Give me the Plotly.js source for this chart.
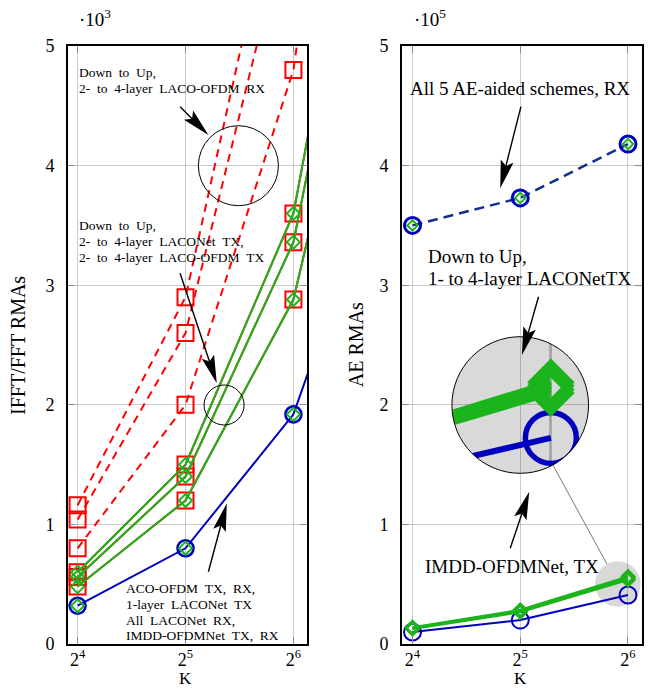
<!DOCTYPE html>
<html><head><meta charset="utf-8">
<script src="https://cdn.plot.ly/plotly-3.0.1.min.js"></script>
<style>html,body{margin:0;padding:0;background:#fff}#chart{width:648px;height:688px}</style>
</head><body><div id="chart"></div>
<script>
// ---------------- data ----------------
// Left panel: IFFT/FFT RMAs (x10^3), K = 2^4 ... 2^7 (2^7 lies beyond the plotted range, lines run off the edge)
const K = [16, 32, 64, 128];
const lacoOfdmRx2 = [0.80, 2.00, 4.80, 11.20];
const lacoOfdmRx3 = [1.04, 2.60, 6.24, 14.56];
const lacoOfdmRx4 = [1.16, 2.90, 6.96, 16.24];
const lacoOfdmTx2 = [0.48, 1.20, 2.88, 6.72];
const lacoOfdmTx3 = [0.56, 1.40, 3.36, 7.84];
const lacoOfdmTx4 = [0.60, 1.50, 3.60, 8.40];
const laconetTx2 = [0.48, 1.20, 2.88, 6.72];
const laconetTx3 = [0.56, 1.40, 3.36, 7.84];
const laconetTx4 = [0.60, 1.50, 3.60, 8.40];
const acoOfdmTxRx = [0.32, 0.80, 1.92, 4.48];
const laconet1Tx = [0.32, 0.80, 1.92, 4.48];

// Right panel: AE RMAs (x10^5)
const Kae = [16, 32, 64];
const aeRxAll = [3.50, 3.73, 4.18];
const laconetAeTx1 = [0.125, 0.265, 0.535];
const laconetAeTx2 = [0.130, 0.272, 0.545];
const laconetAeTx3 = [0.135, 0.279, 0.555];
const laconetAeTx4 = [0.140, 0.286, 0.565];
const imddAeTx = [0.10, 0.20, 0.41];

const xTickVals = [16, 32, 64];
const xTickText = ['2<sup>4</sup>', '2<sup>5</sup>', '2<sup>6</sup>'];
const yTickVals = [0, 1, 2, 3, 4, 5];

// ---------------- geometry ----------------
const W = 648, H = 688, ML = 68, MR = 6.3, MT = 46, MB = 44;
const PW = W - ML - MR, PH = H - MT - MB;
const PX = x => (x - ML) / PW, PY = y => (H - MB - y) / PH;
const L2 = v => v * Math.LOG10E * Math.LN2;
const leftDom = [PX(68), PX(307)], rightDom = [PX(402), PX(641.7)];
const leftR = [3.911, 6.127], rightR = [3.904, 6.13];
const rxLog = px => rightR[0] + (px - 402) * (rightR[1] - rightR[0]) / (641.7 - 402);
const ryVal = py => (644 - py) * 5 / 598;

// inset (spy) geometry
const bigC = {x: 520, y: 405, r: 68.3};
const smC = {x: 617.5, y: 584, r: 68.3 / 3};
const insetX = [L2(rxLog(smC.x - smC.r)), L2(rxLog(smC.x + smC.r))];
const insetY = [ryVal(smC.y + smC.r), ryVal(smC.y - smC.r)];

const BLUE = '#0000c0', GREEN = '#1cb41c', RED = '#ff0000', NAVY = '#10308c';
const FONT = 'Liberation Serif, Times New Roman, serif';

// ---------------- traces ----------------
const traces = [];
function tr(x, y, ax, opt) { traces.push(Object.assign({x: x, y: y, xaxis: ax[0], yaxis: ax[1], type: 'scatter', hoverinfo: 'skip', showlegend: false}, opt)); }
const LA = ['x', 'y'], RA = ['x2', 'y2'], IA = ['x3', 'y3'];

// left: RX dashed red
[lacoOfdmRx2, lacoOfdmRx3, lacoOfdmRx4].forEach(s => tr(K, s, LA, {mode: 'lines+markers', line: {color: RED, width: 2, dash: '8px,6px'}, marker: {symbol: 'square-open', size: 16, color: RED, line: {width: 2, color: RED}}}));
// left: LACO-OFDM TX red squares
[lacoOfdmTx2, lacoOfdmTx3, lacoOfdmTx4].forEach(s => tr(K, s, LA, {mode: 'lines+markers', line: {color: RED, width: 2}, marker: {symbol: 'square-open', size: 16, color: RED, line: {width: 2, color: RED}}}));
// left: LACONet TX green
[laconetTx2, laconetTx3, laconetTx4].forEach(s => tr(K, s, LA, {mode: 'lines+markers', line: {color: GREEN, width: 2}, marker: {symbol: 'diamond-open', size: 10, color: GREEN, line: {width: 2, color: GREEN}}}));
// left: ACO-OFDM blue
tr(K, acoOfdmTxRx, LA, {mode: 'lines+markers', line: {color: BLUE, width: 2}, marker: {symbol: 'circle-open', size: 16, color: BLUE, line: {width: 2.6, color: BLUE}}});
tr(K, laconet1Tx, LA, {mode: 'markers', marker: {symbol: 'diamond-open', size: 10, color: GREEN, line: {width: 2, color: GREEN}}});

// right: RX (all 5 AE schemes)
tr(Kae, aeRxAll, RA, {mode: 'lines+markers', line: {color: NAVY, width: 2.5, dash: '10px,6px'}, marker: {symbol: 'circle-open', size: 16, color: BLUE, line: {width: 3, color: BLUE}}});
tr(Kae, aeRxAll, RA, {mode: 'markers', marker: {symbol: 'diamond-open', size: 8, color: GREEN, line: {width: 2, color: GREEN}}});
// right: IMDD-OFDMNet TX
tr(Kae, imddAeTx, RA, {mode: 'lines+markers', line: {color: BLUE, width: 2}, marker: {symbol: 'circle-open', size: 17, color: BLUE, line: {width: 2, color: BLUE}}});
// right: LACONet TX 1..4
[laconetAeTx1, laconetAeTx2, laconetAeTx3, laconetAeTx4].forEach(s => tr(Kae, s, RA, {mode: 'lines+markers', line: {color: GREEN, width: 2}, marker: {symbol: 'diamond-open', size: 10, color: GREEN, line: {width: 2, color: GREEN}}}));

// inset: magnified x3
tr(Kae, imddAeTx, IA, {mode: 'lines+markers', line: {color: BLUE, width: 6}, marker: {symbol: 'circle-open', size: 51, color: BLUE, line: {width: 5.5, color: BLUE}}, cliponaxis: true});
[laconetAeTx1, laconetAeTx2, laconetAeTx3, laconetAeTx4].forEach(s => tr(Kae, s, IA, {mode: 'lines+markers', line: {color: GREEN, width: 6}, marker: {symbol: 'diamond-open', size: 30, color: GREEN, line: {width: 6, color: GREEN}}, cliponaxis: true}));

// ---------------- shapes ----------------
const shapes = [];
function circ(c, opt) { shapes.push(Object.assign({type: 'circle', xref: 'paper', yref: 'paper', x0: PX(c.x - c.r), x1: PX(c.x + c.r), y0: PY(c.y + c.r), y1: PY(c.y - c.r)}, opt)); }
// gray spy circles (below grid)
circ(bigC, {layer: 'below', fillcolor: '#d9d9d9', line: {width: 0}});
circ(smC, {layer: 'below', fillcolor: '#d9d9d9', line: {width: 0}});
// mask: square minus circle
(function () {
  let p = `M${PX(bigC.x - bigC.r - 1)},${PY(bigC.y - bigC.r - 1)} L${PX(bigC.x + bigC.r + 1)},${PY(bigC.y - bigC.r - 1)} L${PX(bigC.x + bigC.r + 1)},${PY(bigC.y + bigC.r + 1)} L${PX(bigC.x - bigC.r - 1)},${PY(bigC.y + bigC.r + 1)} Z `;
  const n = 120;
  for (let i = 0; i <= n; i++) {
    const a = 2 * Math.PI * i / n;
    const x = bigC.x + bigC.r * Math.cos(a), y = bigC.y + bigC.r * Math.sin(a);
    p += (i === 0 ? 'M' : 'L') + PX(x) + ',' + PY(y) + ' ';
  }
  p += 'Z';
  shapes.push({type: 'path', xref: 'paper', yref: 'paper', path: p, fillcolor: 'white', fillrule: 'evenodd', line: {width: 0}, layer: 'above'});
})();
circ(bigC, {layer: 'above', line: {color: 'black', width: 1}, fillcolor: 'rgba(0,0,0,0)'});
// connector
(function () {
  const dx = smC.x - bigC.x, dy = smC.y - bigC.y, d = Math.hypot(dx, dy), ux = dx / d, uy = dy / d;
  shapes.push({type: 'line', xref: 'paper', yref: 'paper', x0: PX(bigC.x + ux * bigC.r), y0: PY(bigC.y + uy * bigC.r), x1: PX(smC.x - ux * smC.r), y1: PY(smC.y - uy * smC.r), line: {color: '#555', width: 0.8}});
})();
// left circles
circ({x: 238.3, y: 165.7, r: 40}, {line: {color: 'black', width: 1}, fillcolor: 'rgba(0,0,0,0)'});
circ({x: 224, y: 405, r: 20}, {line: {color: 'black', width: 1}, fillcolor: 'rgba(0,0,0,0)'});

function arrow(tx, ty, hx, hy) {
  const dx = hx - tx, dy = hy - ty, len = Math.hypot(dx, dy), ux = dx / len, uy = dy / len;
  const hl = 28, hw = 6.5, notch = 5;
  const bx = hx - ux * hl, by = hy - uy * hl, nx = -uy, ny = ux;
  const p1 = [bx + nx * hw, by + ny * hw], p2 = [bx - nx * hw, by - ny * hw], pn = [hx - ux * (hl - notch), hy - uy * (hl - notch)];
  shapes.push({type: 'line', xref: 'paper', yref: 'paper', x0: PX(tx), y0: PY(ty), x1: PX(pn[0]), y1: PY(pn[1]), line: {color: 'black', width: 1.4}});
  shapes.push({type: 'path', xref: 'paper', yref: 'paper', path: `M${PX(hx)},${PY(hy)} L${PX(p1[0])},${PY(p1[1])} L${PX(pn[0])},${PY(pn[1])} L${PX(p2[0])},${PY(p2[1])} Z`, fillcolor: 'black', line: {width: 0}});
}
arrow(180, 106.7, 208.3, 135);
arrow(180, 273.3, 216.7, 383.3);
arrow(208.3, 571.7, 226.7, 503.3);
arrow(520.7, 106.7, 500, 188.3);
arrow(538.3, 296.7, 521.7, 355);
arrow(510, 548.3, 529, 491.7);

// ---------------- annotations ----------------
const ann = [];
const sp = s => s.replace(/ /g, ' \u00a0');
function txt(t, x, y, size, opt) { ann.push(Object.assign({text: t, x: PX(x), y: PY(y), xref: 'paper', yref: 'paper', showarrow: false, xanchor: 'left', yanchor: 'middle', borderpad: 0, font: {family: FONT, size: size, color: 'black'}}, opt)); }
txt(sp('Down to Up,'), 78, 73, 13.5);
txt(sp('2- to 4-layer LACO-OFDM RX'), 78, 89, 13.5);
txt(sp('Down to Up,'), 78, 225, 13.5);
txt(sp('2- to 4-layer LACONet TX,'), 78, 241.7, 13.5);
txt(sp('2- to 4-layer LACO-OFDM TX'), 78, 257.3, 13.5);
txt(sp('ACO-OFDM TX, RX,'), 125, 588.3, 13.5);
txt(sp('1-layer LACONet TX'), 125, 604.3, 13.5);
txt(sp('All LACONet RX,'), 125, 620, 13.5);
txt(sp('IMDD-OFDMNet TX, RX'), 125, 635.7, 13.5);
txt('All 5 AE-aided schemes, RX', 520, 88.3, 19, {xanchor: 'center'});
txt('Down to Up,', 426.7, 256.7, 19);
txt('1- to 4-layer LACONetTX', 426.7, 278.3, 19);
txt('IMDD-OFDMNet, TX', 424.3, 566.7, 19);
txt('\u00b710<sup>3</sup>', 78, 18, 19);
txt('\u00b710<sup>5</sup>', 413, 18, 19);
txt('IFFT/FFT RMAs', 18, 345, 20, {xanchor: 'center', textangle: -90});
txt('AE RMAs', 356, 345, 20, {xanchor: 'center', textangle: -90});
txt('K', 185, 678, 17, {xanchor: 'center'});
txt('K', 520, 678, 17, {xanchor: 'center'});

// ---------------- layout ----------------
const axisCommon = {showline: true, linecolor: 'black', linewidth: 2, mirror: 'ticks', ticks: 'inside', ticklen: 7, tickcolor: '#8c8c8c', tickwidth: 1,
  showgrid: true, gridcolor: 'rgba(0,0,0,0.2)', gridwidth: 1, zeroline: false, fixedrange: true,
  tickfont: {family: FONT, size: 18, color: 'black'}};
const xCommon = Object.assign({}, axisCommon, {type: 'log', tickmode: 'array', tickvals: xTickVals, ticktext: xTickText, ticklabelstandoff: -2});
const yCommon = Object.assign({}, axisCommon, {range: [0, 5], tickmode: 'array', tickvals: yTickVals, ticklabelstandoff: 8});

const layout = {
  width: W, height: H, margin: {l: ML, r: MR, t: MT, b: MB, pad: 0},
  paper_bgcolor: 'white', plot_bgcolor: 'rgba(0,0,0,0)', showlegend: false,
  xaxis: Object.assign({}, xCommon, {domain: leftDom, range: leftR.map(L2), anchor: 'y'}),
  yaxis: Object.assign({}, yCommon, {domain: [0, 1], anchor: 'x'}),
  xaxis2: Object.assign({}, xCommon, {domain: rightDom, range: rightR.map(L2), anchor: 'y2'}),
  yaxis2: Object.assign({}, yCommon, {domain: [0, 1], anchor: 'x2'}),
  xaxis3: {type: 'log', domain: [PX(bigC.x - bigC.r), PX(bigC.x + bigC.r)], range: insetX, anchor: 'y3', showline: false, showticklabels: false, ticks: '', zeroline: false,
    showgrid: true, tickmode: 'array', tickvals: [64], gridcolor: 'rgba(0,0,0,0.22)', gridwidth: 3, fixedrange: true},
  yaxis3: {domain: [PY(bigC.y + bigC.r), PY(bigC.y - bigC.r)], range: insetY, anchor: 'x3', showline: false, showticklabels: false, ticks: '', zeroline: false, showgrid: false, fixedrange: true},
  shapes: shapes, annotations: ann
};

Plotly.newPlot('chart', traces, layout, {staticPlot: true, displayModeBar: false});
</script>
</body></html>
